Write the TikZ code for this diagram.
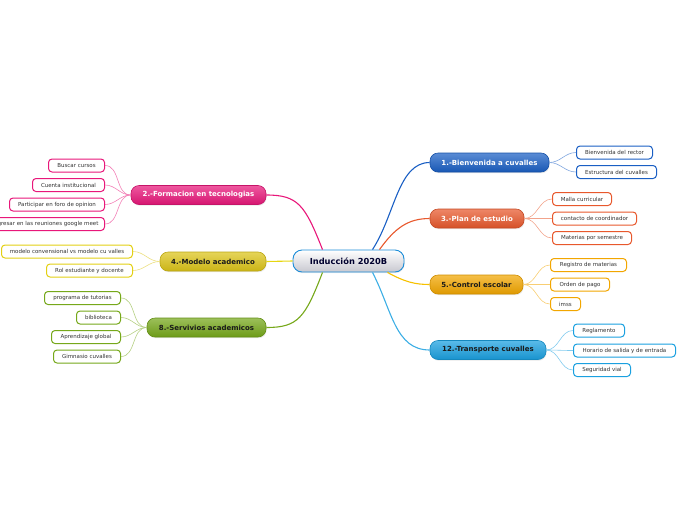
\documentclass[tikz,border=0pt]{standalone}
\usepackage{fontspec}
\setmainfont{DejaVu Sans}
\usetikzlibrary{calc,shadows}
\definecolor{cblue}{HTML}{1A5FC4}
\definecolor{corange}{HTML}{E8582C}
\definecolor{cgold}{HTML}{F2A600}
\definecolor{csky}{HTML}{1AA0E0}
\definecolor{cpink}{HTML}{E8177A}
\definecolor{cyellow}{HTML}{DCC418}
\definecolor{cgreen}{HTML}{76A81A}
\definecolor{ctext}{HTML}{333333}
\definecolor{cdark}{HTML}{1A1A1A}
\tikzset{
  leaf/.style={draw=#1, line width=1pt, fill=white, rounded corners=3.5pt,
    minimum height=13pt, inner xsep=4pt, inner ysep=0pt,
    font=\fontsize{5.5}{6}\selectfont, text=ctext},
  branch/.style={rounded corners=8pt, minimum height=19pt, inner ysep=0pt,
    top color=#1!72!white, bottom color=#1!92!black, draw=#1!85!black, line width=0.6pt,
    font=\fontsize{7}{8}\selectfont\bfseries,
    drop shadow={opacity=0.18, shadow xshift=0.6pt, shadow yshift=-1.2pt}},
  mainlink/.style={draw=#1, line width=1.1pt},
  leaflink/.style={draw=#1!55!white, line width=0.6pt},
}
\begin{document}
\begin{tikzpicture}[x=1pt,y=-1pt]
\useasboundingbox (0,0) rectangle (696,520);

% center
\node[rounded corners=9pt, minimum width=111pt, minimum height=22pt, inner ysep=0pt,
  top color=white, bottom color=black!5!blue!8!gray!40, draw=csky!70!cblue, line width=0.9pt,
  font=\fontsize{8.3}{9}\selectfont\bfseries, text=black!70!blue!60!black,
  drop shadow={opacity=0.15, shadow xshift=0.6pt, shadow yshift=-1.2pt}]
  (c) at (348.5,261) {Inducción 2020B};

% branches
\node[branch=cblue, minimum width=119pt, text=white] (b1) at (489.5,162.5) {1.-Bienvenida a cuvalles};
\node[branch=corange, minimum width=94pt, text=white] (b3) at (477,218.5) {3.-Plan de estudio};
\node[branch=cgold, minimum width=93pt, text=cdark] (b5) at (476.5,284.5) {5.-Control escolar};
\node[branch=csky, minimum width=116pt, text=cdark] (b12) at (488,350) {12.-Transporte cuvalles};
\node[branch=cpink, minimum width=135pt, text=white] (b2) at (198.5,195) {2.-Formacion en tecnologias};
\node[branch=cyellow, minimum width=106pt, text=cdark] (b4) at (213,261.5) {4.-Modelo academico};
\node[branch=cgreen, minimum width=119pt, text=cdark] (b8) at (206.5,327.5) {8.-Servivios academicos};

% main links
\draw[mainlink=cblue] ($(c.north)+(24,0)$) .. controls (395,215) and (398,162.5) .. (b1.west);
\draw[mainlink=corange] ($(c.north)+(31,0)$) .. controls (395,228) and (408,218.5) .. (b3.west);
\draw[mainlink=cgold!70!yellow] ($(c.south)+(39,0)$) .. controls (405,282) and (415,284.5) .. (b5.west);
\draw[mainlink=csky!85!white] ($(c.south)+(24,0)$) .. controls (392,310) and (395,350) .. (b12.west);
\draw[mainlink=cpink] ($(c.north)+(-26,0)$) .. controls (305,205) and (298,195) .. (b2.east);
\draw[mainlink=cyellow!70!yellow] (c.west) -- (b4.east);
\draw[mainlink=cgreen] ($(c.south)+(-26,0)$) .. controls (305,318) and (298,327.5) .. (b8.east);

% right leaves
\node[leaf=cblue, minimum width=76pt, anchor=west] (l11) at (576,152.5) {Bienvenida del rector};
\node[leaf=cblue, minimum width=80pt, anchor=west] (l12) at (576,172) {Estructura del cuvalles};

\node[leaf=corange, minimum width=59pt, anchor=west] (l31) at (552,199) {Malla curricular};
\node[leaf=corange, minimum width=84pt, anchor=west] (l32) at (552,218.5) {contacto de coordinador};
\node[leaf=corange, minimum width=79pt, anchor=west] (l33) at (552,238) {Materias por semestre};

\node[leaf=cgold, minimum width=76pt, anchor=west] (l51) at (550,265) {Registro de materias};
\node[leaf=cgold, minimum width=59pt, anchor=west] (l52) at (550,284.5) {Orden de pago};
\node[leaf=cgold, minimum width=30pt, anchor=west] (l53) at (550,304) {imss};

\node[leaf=csky, minimum width=51pt, anchor=west] (l121) at (573,330.5) {Reglamento};
\node[leaf=csky, minimum width=102pt, anchor=west] (l122) at (573,350.5) {Horario de salida y de entrada};
\node[leaf=csky, minimum width=57pt, anchor=west] (l123) at (573,370) {Seguridad vial};

% left leaves
\node[leaf=cpink, minimum width=56pt, anchor=east] (l21) at (105,165.5) {Buscar cursos};
\node[leaf=cpink, minimum width=72pt, anchor=east] (l22) at (105,185) {Cuenta institucional};
\node[leaf=cpink, minimum width=95pt, anchor=east] (l23) at (105,204.5) {Participar en foro de opinion};
\node[leaf=cpink, minimum width=118pt, anchor=east] (l24) at (105,224) {Ingresar en las reuniones google meet};

\node[leaf=cyellow!80!yellow, minimum width=131pt, anchor=east] (l41) at (133,251.5) {modelo convensional vs modelo cu valles};
\node[leaf=cyellow!80!yellow, minimum width=86pt, anchor=east] (l42) at (133,270.5) {Rol estudiante y docente};

\node[leaf=cgreen, minimum width=76pt, anchor=east] (l81) at (121,298) {programa de tutorias};
\node[leaf=cgreen, minimum width=44pt, anchor=east] (l82) at (121,317.5) {biblioteca};
\node[leaf=cgreen, minimum width=69pt, anchor=east] (l83) at (121,337) {Aprendizaje global};
\node[leaf=cgreen, minimum width=67pt, anchor=east] (l84) at (121,356.5) {Gimnasio cuvalles};

% leaf links
\foreach \l in {l11,l12} \draw[leaflink=cblue] (b1.east) to[out=0,in=180] (\l.west);
\foreach \l in {l31,l32,l33} \draw[leaflink=corange] (b3.east) to[out=0,in=180] (\l.west);
\foreach \l in {l51,l52,l53} \draw[leaflink=cgold] (b5.east) to[out=0,in=180] (\l.west);
\foreach \l in {l121,l122,l123} \draw[leaflink=csky] (b12.east) to[out=0,in=180] (\l.west);
\foreach \l in {l21,l22,l23,l24} \draw[leaflink=cpink] (b2.west) to[out=180,in=0] (\l.east);
\foreach \l in {l41,l42} \draw[leaflink=cyellow] (b4.west) to[out=180,in=0] (\l.east);
\foreach \l in {l81,l82,l83,l84} \draw[leaflink=cgreen] (b8.west) to[out=180,in=0] (\l.east);
\end{tikzpicture}
\end{document}
